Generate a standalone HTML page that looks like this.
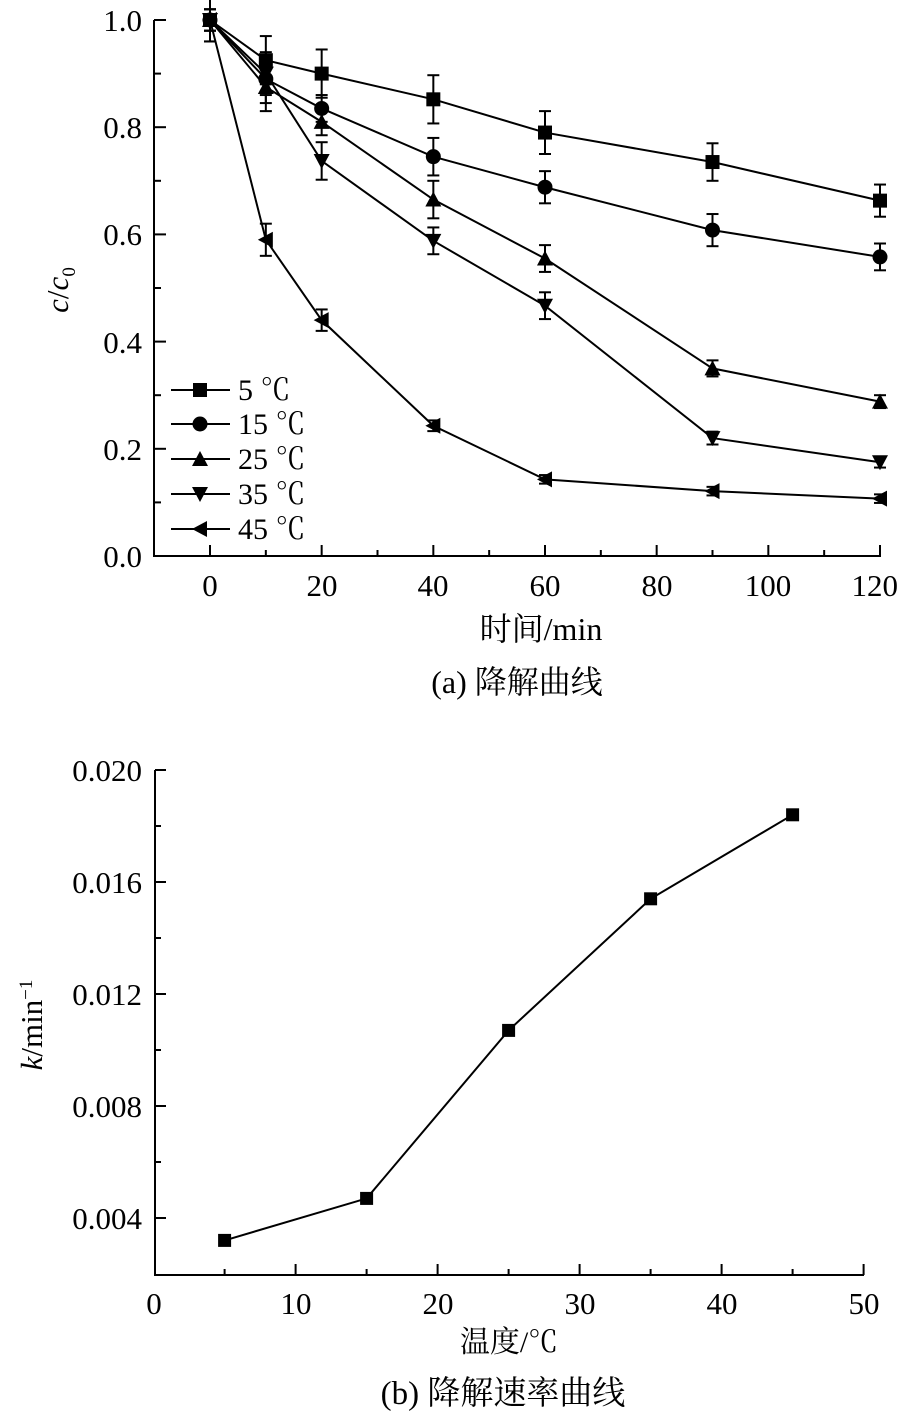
<!DOCTYPE html>
<html><head><meta charset="utf-8"><style>
html,body{margin:0;padding:0;background:#fff;}
svg{display:block;font-family:"Liberation Serif","Noto Serif CJK SC",serif;}
</style></head><body>
<svg id="s" width="900" height="1418" viewBox="0 0 900 1418" xmlns="http://www.w3.org/2000/svg">
<g id="g" stroke="#000" fill="#000"></g>
<g font-size="31" fill="#000">
<text x="142" y="31" text-anchor="end">1.0</text>
<text x="142" y="138" text-anchor="end">0.8</text>
<text x="142" y="245" text-anchor="end">0.6</text>
<text x="142" y="353" text-anchor="end">0.4</text>
<text x="142" y="460" text-anchor="end">0.2</text>
<text x="142" y="567" text-anchor="end">0.0</text>
<text x="210" y="596" text-anchor="middle">0</text>
<text x="322" y="596" text-anchor="middle">20</text>
<text x="433" y="596" text-anchor="middle">40</text>
<text x="545" y="596" text-anchor="middle">60</text>
<text x="657" y="596" text-anchor="middle">80</text>
<text x="768" y="596" text-anchor="middle">100</text>
<text x="898" y="596" text-anchor="end">120</text>
<text x="541" y="640" text-anchor="middle" font-size="32">时间/min</text>
<text x="517" y="693" text-anchor="middle" font-size="32">(a) 降解曲线</text>
<text transform="translate(68,290) rotate(-90)" text-anchor="middle" font-size="31"><tspan font-style="italic">c</tspan>/<tspan font-style="italic">c</tspan><tspan font-size="19" dy="7">0</tspan></text>
<g font-size="30">
<text x="238" y="400">5 ℃</text>
<text x="238" y="434">15 ℃</text>
<text x="238" y="469">25 ℃</text>
<text x="238" y="504">35 ℃</text>
<text x="238" y="539">45 ℃</text>
</g>
<text x="142" y="781" text-anchor="end">0.020</text>
<text x="142" y="893" text-anchor="end">0.016</text>
<text x="142" y="1005" text-anchor="end">0.012</text>
<text x="142" y="1117" text-anchor="end">0.008</text>
<text x="142" y="1229" text-anchor="end">0.004</text>
<text x="154" y="1314" text-anchor="middle">0</text>
<text x="296" y="1314" text-anchor="middle">10</text>
<text x="438" y="1314" text-anchor="middle">20</text>
<text x="580" y="1314" text-anchor="middle">30</text>
<text x="722" y="1314" text-anchor="middle">40</text>
<text x="864" y="1314" text-anchor="middle">50</text>
<text x="509" y="1352" text-anchor="middle" font-size="30">温度/℃</text>
<text x="503" y="1404" text-anchor="middle" font-size="33">(b) 降解速率曲线</text>
<text transform="translate(42,1025) rotate(-90)" text-anchor="middle" font-size="31"><tspan font-style="italic">k</tspan>/min<tspan font-size="19" dy="-10">−1</tspan></text>
</g>
</svg>
<script>
var g=document.getElementById('g'),h='';
function L(a,b,c,d,w){h+='<line x1="'+a+'" y1="'+b+'" x2="'+c+'" y2="'+d+'" stroke-width="'+(w||2)+'"/>';}
function M(t,x,y,s){s=s||7;
 if(t==0)h+='<rect x="'+(x-s)+'" y="'+(y-s)+'" width="'+2*s+'" height="'+2*s+'" stroke="none"/>';
 if(t==1)h+='<circle cx="'+x+'" cy="'+y+'" r="'+(s+0.5)+'" stroke="none"/>';
 if(t==2)h+='<polygon points="'+x+','+(y-s-1)+' '+(x+s+1)+','+(y+s)+' '+(x-s-1)+','+(y+s)+'" stroke="none"/>';
 if(t==3)h+='<polygon points="'+x+','+(y+s+1)+' '+(x+s+1)+','+(y-s)+' '+(x-s-1)+','+(y-s)+'" stroke="none"/>';
 if(t==4)h+='<polygon points="'+(x-s-1)+','+y+' '+(x+s)+','+(y-s-1)+' '+(x+s)+','+(y+s+1)+'" stroke="none"/>';
}
L(154,20,154,557);L(153,556,881,556);
for(var v=0;v<=10;v++){var y=556-53.6*v;L(154,y,v%2?161:166,y);}
for(var t=-10;t<=120;t+=10){var x=210+5.5833*t;if(t>-10)L(x,556,x,t%20?550:545);}
var X=[0,10,20,40,60,90,120];
var D=[[1,.925,.9,.852,.79,.735,.663],[1,.89,.835,.745,.688,.608,.558],[1,.875,.81,.665,.555,.35,.288],[1,.9,.737,.588,.467,.22,.175],[1,.59,.44,.243,.143,.121,.107]];
var E=[[.04,.045,.045,.045,.04,.035,.03],[.02,.045,.025,.035,.03,.03,.025],[.02,.045,.025,.035,.025,.015,.012],[.02,.04,.035,.025,.025,.012,.01],[.04,.03,.02,.01,.008,.008,.008]];
for(var i=0;i<5;i++){var p='';for(var j=0;j<7;j++){var x=210+5.5833*X[j],y=556-536*D[i][j];p+=x+','+y+' ';
 var e=536*E[i][j];L(x,y-e,x,y+e);L(x-6,y-e,x+6,y-e);L(x-6,y+e,x+6,y+e);}
 h+='<polyline points="'+p+'" fill="none" stroke-width="2"/>';
 for(var j=0;j<7;j++)M(i,210+5.5833*X[j],556-536*D[i][j]);
 var ly=[390,424,459,494,529][i];L(171,ly,230,ly);M(i,200,ly);}
L(155,770,155,1276);L(154,1275,864,1275);
for(var k=0;k<=8;k++){var y=770+56*k;if(y<1275)L(155,y,k%2?161:166,y);}
for(var t=0;t<=50;t+=5){var x=153.6+14.2*t;if(t>0)L(x,1275,x,t%10?1269:1264);}
var B=[[5,.0032],[15,.0047],[25,.0107],[35,.0154],[45,.0184]],p='';
B.forEach(function(b){p+=(153.6+14.2*b[0])+','+(770+28000*(0.02-b[1]))+' ';});
h+='<polyline points="'+p+'" fill="none" stroke-width="2"/>';
B.forEach(function(b){M(0,153.6+14.2*b[0],770+28000*(0.02-b[1]),6.5);});
g.innerHTML=h;
</script>
</body></html>
